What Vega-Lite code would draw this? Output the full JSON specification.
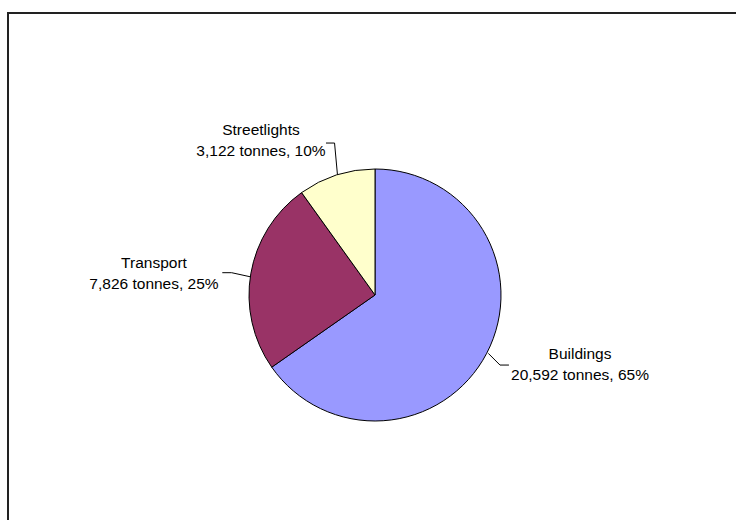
{
  "$schema": "https://vega.github.io/schema/vega-lite/v6.json",
  "width": 800,
  "height": 564,
  "autosize": {"type": "none"},
  "padding": {"left": 8, "top": 13, "right": 0, "bottom": 0},
  "background": "white",
  "config": {"view": {"stroke": "#222222", "strokeWidth": 2}},
  "datasets": {
    "slices": [
      {"category": "Buildings", "tonnes": 20592, "ord": 1, "cx": 0, "cy": 0},
      {"category": "Transport", "tonnes": 7826, "ord": 2, "cx": 0, "cy": 0},
      {"category": "Streetlights", "tonnes": 3122, "ord": 3, "cx": 0, "cy": 0}
    ],
    "labels": [
      {"category": "Streetlights", "line1": "Streetlights", "line2": "3,122 tonnes, 10%", "ux": -0.905, "uy": 1.270},
      {"category": "Transport", "line1": "Transport", "line2": "7,826 tonnes, 25%", "ux": -1.754, "uy": 0.214},
      {"category": "Buildings", "line1": "Buildings", "line2": "20,592 tonnes, 65%", "ux": 1.627, "uy": -0.508}
    ],
    "leaders": [
      {"category": "Streetlights", "seq": 1, "ux": -0.389, "uy": 1.206},
      {"category": "Streetlights", "seq": 2, "ux": -0.321, "uy": 1.206},
      {"category": "Streetlights", "seq": 3, "ux": -0.298, "uy": 0.955},
      {"category": "Transport", "seq": 1, "ux": -1.212, "uy": 0.177},
      {"category": "Transport", "seq": 2, "ux": -1.138, "uy": 0.177},
      {"category": "Transport", "seq": 3, "ux": -0.992, "uy": 0.145},
      {"category": "Buildings", "seq": 1, "ux": 0.899, "uy": -0.463},
      {"category": "Buildings", "seq": 2, "ux": 0.992, "uy": -0.556},
      {"category": "Buildings", "seq": 3, "ux": 1.063, "uy": -0.556}
    ]
  },
  "layer": [
    {
      "data": {"name": "slices"},
      "mark": {"type": "arc", "outerRadius": 126, "stroke": "#000000", "strokeWidth": 1},
      "encoding": {
        "x": {"field": "cx", "type": "quantitative", "axis": null, "scale": {"domain": [-2.9127, 3.4365], "nice": false, "zero": false}},
        "y": {"field": "cy", "type": "quantitative", "axis": null, "scale": {"domain": [-2.2381, 2.2381], "nice": false, "zero": false}},
        "theta": {"field": "tonnes", "type": "quantitative", "stack": true},
        "order": {"field": "ord", "type": "quantitative", "sort": "ascending"},
        "color": {
          "field": "category",
          "type": "nominal",
          "scale": {"domain": ["Buildings", "Transport", "Streetlights"], "range": ["#9999FF", "#993366", "#FFFFCC"]},
          "legend": null
        }
      }
    },
    {
      "data": {"name": "leaders"},
      "mark": {"type": "line", "stroke": "#000000", "strokeWidth": 1},
      "encoding": {
        "x": {"field": "ux", "type": "quantitative"},
        "y": {"field": "uy", "type": "quantitative"},
        "detail": {"field": "category", "type": "nominal"},
        "order": {"field": "seq", "type": "quantitative"}
      }
    },
    {
      "data": {"name": "labels"},
      "transform": [{"calculate": "[datum.line1, datum.line2]", "as": "lines"}],
      "mark": {"type": "text", "font": "Liberation Sans", "fontSize": 15.5, "lineHeight": 21, "align": "center", "baseline": "alphabetic", "color": "#000000"},
      "encoding": {
        "x": {"field": "ux", "type": "quantitative"},
        "y": {"field": "uy", "type": "quantitative"},
        "text": {"field": "lines"}
      }
    }
  ]
}
